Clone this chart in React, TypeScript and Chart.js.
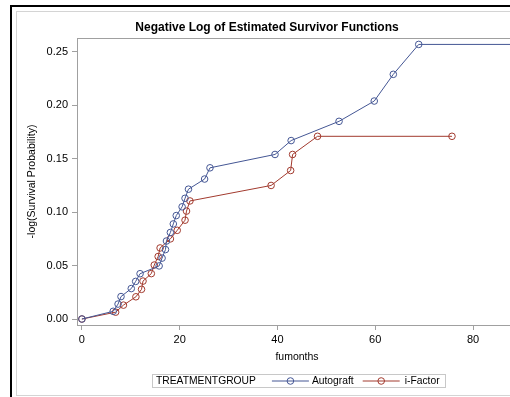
import React, { useEffect, useRef } from "react";
import { Chart, registerables } from "chart.js";

Chart.register(...registerables);

const chartTitle = "Negative Log of Estimated Survivor Functions";
const xAxisTitle = "fumonths";
const yAxisTitle = "-log(Survival Probability)";
const legendTitle = "TREATMENTGROUP";
const seriesNames = ["Autograft", "i-Factor"];
const xTicks = [0, 20, 40, 60, 80];
const yTicks = [0, 0.05, 0.1, 0.15, 0.2, 0.25];

const autograftMonths = [0, 6.4, 7.4, 8.0, 10.1, 11.0, 11.9, 15.8, 16.4, 17.1, 17.3, 18.1, 18.7, 19.3, 20.5, 21.1, 21.8, 25.1, 26.2, 39.5, 42.8, 52.6, 59.8, 63.7, 68.9, 89];
const autograftValues = [0, 0.0072, 0.014, 0.021, 0.0285, 0.0352, 0.0424, 0.0497, 0.057, 0.065, 0.073, 0.081, 0.089, 0.0968, 0.105, 0.113, 0.1215, 0.131, 0.1415, 0.154, 0.167, 0.185, 0.204, 0.229, 0.257, 0.257];

const iFactorMonths = [0, 6.9, 8.5, 11.05, 12.2, 12.5, 14.2, 14.8, 15.6, 16.0, 18.1, 19.5, 21.1, 21.4, 22.1, 38.7, 42.7, 43.1, 48.2, 75.7];
const iFactorValues = [0, 0.0064, 0.013, 0.0208, 0.0278, 0.0355, 0.0425, 0.0505, 0.0585, 0.0665, 0.075, 0.083, 0.0925, 0.101, 0.1105, 0.125, 0.139, 0.154, 0.171, 0.171];

const BLUE = "#445694";
const RED = "#A23A2E";
const AXIS = "#a0a0a0";
const FONT = "'Liberation Sans', Arial, sans-serif";

const framePlugin = {
  id: "plotFrame",
  beforeDatasetsDraw(chart: any) {
    const { ctx, chartArea } = chart;
    ctx.save();
    ctx.strokeStyle = AXIS;
    ctx.lineWidth = 1;
    ctx.strokeRect(
      Math.round(chartArea.left) + 0.5,
      Math.round(chartArea.top) + 0.5,
      Math.round(chartArea.right - chartArea.left),
      Math.round(chartArea.bottom - chartArea.top)
    );
    ctx.restore();
  },
};

const legendPlugin = {
  id: "sasLegend",
  afterDraw(chart: any) {
    const { ctx } = chart;
    const ds = chart.data.datasets;
    ctx.save();
    ctx.font = `10.3px ${FONT}`;
    ctx.textBaseline = "middle";
    const padL = 4;
    const padR = 5;
    const sample = 37;
    const wTitle = ctx.measureText(legendTitle).width;
    const wLabels = ds.map((d: any) => ctx.measureText(d.label).width);
    const total = padL + wTitle + 16 + sample + 3 + wLabels[0] + 9 + sample + 5 + wLabels[1] + padR;
    const cx = chart.width / 2;
    const left = Math.round(cx - total / 2);
    const top = 362;
    const h = 13;
    ctx.strokeStyle = "#c8c8c8";
    ctx.lineWidth = 1;
    ctx.strokeRect(left + 0.5, top + 0.5, Math.round(total), h);
    const cy = top + h / 2 + 0.5;
    ctx.fillStyle = "#000";
    let x = left + padL;
    ctx.fillText(legendTitle, x, cy);
    x += wTitle + 16;
    ds.forEach((d: any, i: number) => {
      ctx.strokeStyle = d.borderColor;
      ctx.beginPath();
      ctx.moveTo(x, cy);
      ctx.lineTo(x + sample, cy);
      ctx.stroke();
      ctx.beginPath();
      ctx.arc(x + sample / 2, cy, d.pointRadius, 0, Math.PI * 2);
      ctx.stroke();
      x += sample + (i === 0 ? 3 : 5);
      ctx.fillStyle = "#000";
      ctx.fillText(d.label, x, cy);
      x += wLabels[i] + 9;
    });
    ctx.restore();
  },
};

export default function App() {
  const ref = useRef<HTMLCanvasElement | null>(null);

  useEffect(() => {
    if (!ref.current) return;
    const mk = (xs: number[], ys: number[]) => xs.map((x, i) => ({ x, y: ys[i] }));
    const chart = new Chart(ref.current, {
      type: "line",
      data: {
        datasets: [
          {
            label: seriesNames[0],
            data: mk(autograftMonths, autograftValues),
            borderColor: BLUE,
            borderWidth: 1,
            pointRadius: 3.3,
            pointBorderWidth: 1,
            pointBorderColor: BLUE,
            pointBackgroundColor: "rgba(0,0,0,0)",
            tension: 0,
          },
          {
            label: seriesNames[1],
            data: mk(iFactorMonths, iFactorValues),
            borderColor: RED,
            borderWidth: 1,
            pointRadius: 3.3,
            pointBorderWidth: 1,
            pointBorderColor: RED,
            pointBackgroundColor: "rgba(0,0,0,0)",
            tension: 0,
          },
        ],
      },
      options: {
        animation: false,
        responsive: false,
        maintainAspectRatio: false,
        layout: { padding: { left: 0, right: 63, top: 0, bottom: 30 } },
        plugins: {
          legend: { display: false },
          tooltip: { enabled: false },
          title: {
            display: true,
            text: chartTitle,
            color: "#000",
            font: { family: FONT, size: 12, weight: "bold" },
            padding: { top: 8, bottom: 3.6 },
          },
        },
        scales: {
          x: {
            type: "linear",
            min: -1,
            max: 89,
            afterBuildTicks: (s: any) => {
              s.ticks = xTicks.map((v) => ({ value: v }));
            },
            afterFit: (s: any) => {
              s.height = 40;
            },
            grid: { display: true, drawOnChartArea: false, drawTicks: true, tickLength: 5, color: AXIS },
            border: { display: true, color: AXIS },
            ticks: { color: "#000", padding: 3, font: { family: FONT, size: 11 }, maxRotation: 0 },
            title: {
              display: true,
              text: xAxisTitle,
              color: "#000",
              font: { family: FONT, size: 10.5 },
              padding: { top: 0, bottom: 1.7 },
            },
          },
          y: {
            type: "linear",
            min: -0.0056,
            max: 0.263,
            afterBuildTicks: (s: any) => {
              s.ticks = yTicks.map((v) => ({ value: v }));
            },
            afterFit: (s: any) => {
              s.width = 60;
            },
            grid: { display: true, drawOnChartArea: false, drawTicks: true, tickLength: 5, color: AXIS },
            border: { display: true, color: AXIS },
            ticks: {
              color: "#000",
              padding: 4,
              font: { family: FONT, size: 11 },
              callback: (v: any) => Number(v).toFixed(2),
            },
            title: {
              display: true,
              text: yAxisTitle,
              color: "#000",
              font: { family: FONT, size: 10.5 },
              padding: { top: 8.7, bottom: 0 },
            },
          },
        },
      },
      plugins: [framePlugin, legendPlugin],
    });
    return () => chart.destroy();
  }, []);

  return (
    <div style={{ position: "absolute", left: 0, top: 0, width: 510, height: 397, overflow: "hidden", background: "#fff" }}>
      <div
        style={{
          position: "absolute",
          left: 10,
          top: 5,
          width: 620,
          height: 420,
          borderLeft: "2px solid #000",
          borderTop: "2px solid #000",
        }}
      />
      <div
        style={{
          position: "absolute",
          left: 16,
          top: 11,
          width: 563,
          height: 383,
          border: "1px solid #d4d4d4",
          background: "#fff",
        }}
      >
        <canvas ref={ref} width={563} height={383} style={{ display: "block", width: 563, height: 383 }} />
      </div>
    </div>
  );
}
